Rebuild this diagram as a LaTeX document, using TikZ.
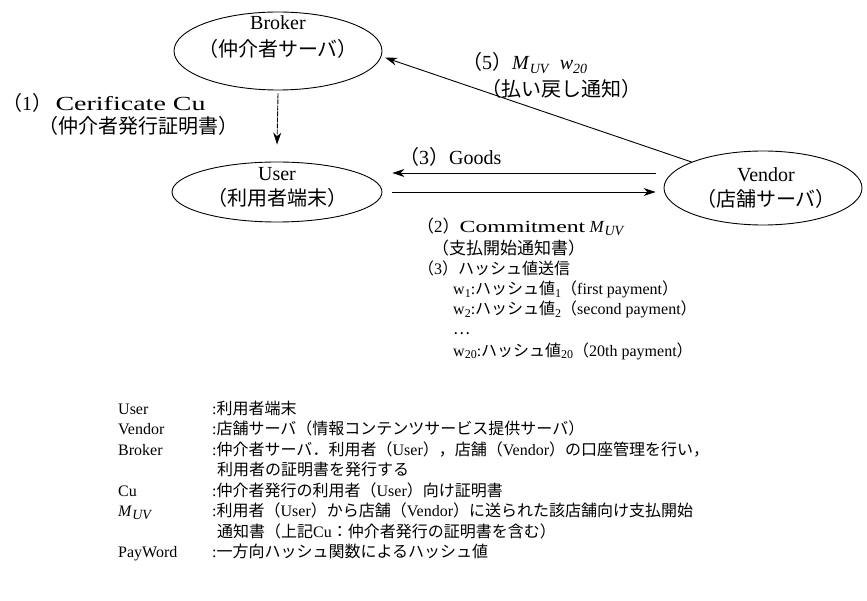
\documentclass[tikz,border=0pt]{standalone}
\usepackage{fontspec}
\setmainfont{Liberation Serif}
\newfontfamily\jpf{Noto Sans CJK JP}
\newfontfamily\wdf{Liberation Serif}[FakeStretch=1.4]
\usetikzlibrary{shapes.geometric,arrows.meta}
\newcommand\fs{\fontsize{16}{23}\selectfont}
\newcommand\fb{\fontsize{20}{25}\selectfont}
\newcommand\fm{\fontsize{17}{21}\selectfont}
\newcommand\J[1]{{\jpf #1}}
\newcommand\sbs[1]{\raisebox{-0.4ex}{\fontsize{12}{12}\selectfont #1}}
\newcommand\sbb[1]{\raisebox{-0.35ex}{\fontsize{14}{14}\selectfont #1}}
\newcommand\MUV{\textit{M}\sbs{\textit{UV}}}
\newcommand\MUVb{\textit{M}\sbb{\textit{UV}}}
\tikzset{
  ell/.style={draw, ellipse, line width=0.9pt, inner sep=0pt},
  etxt/.style={inner sep=0pt, align=center, font=\fb},
  lbl/.style={anchor=base west, inner sep=0pt, font=\fs},
  lblb/.style={anchor=base west, inner sep=0pt, font=\fb},
  lblm/.style={anchor=base west, inner sep=0pt, font=\fm},
  arr/.style={-{Stealth[length=12pt,width=8pt]}, line width=0.9pt}
}
\begin{document}
\begin{tikzpicture}[x=1pt,y=-1pt]
\useasboundingbox[fill=white] (0,0) rectangle (867,601);
% ellipses
\node[ell, minimum width=208pt, minimum height=78pt] (bro) at (278,51) {};
\node[etxt, font=\fontsize{20}{27}\selectfont] (brot) at (278,37) {Broker\\\J{（仲介者サーバ）}};
\node[ell, minimum width=210pt, minimum height=60pt] (usr) at (277,192) {};
\node[etxt] (usrt) at (277,187) {User\\\J{（利用者端末）}};
\node[ell, minimum width=198pt, minimum height=74pt] (ven) at (763,188) {};
\node[etxt] (vent) at (766,188) {Vendor\\\J{（店舗サーバ）}};
% connectors
\draw[arr, dash pattern=on 5pt off 1pt] ([yshift=-3pt]bro.south) -- ([yshift=17pt]usr.north);
\draw[arr] ([xshift=-8pt,yshift=15pt]ven.west) -- ([xshift=10pt,yshift=19pt]usr.east);
\draw[arr] ([xshift=10pt]usr.east) -- ([xshift=-8pt,yshift=-4pt]ven.west);
\draw[arr, shorten >=4pt] (ven.160) -- (bro.-3);
% connector labels
\node[lblb] (l1a) at (2,111) {\J{（}1\J{）}\,{\wdf Cerificate Cu}};
\node[lblb] (l1b) at (38,134) {\J{（仲介者発行証明書）}};
\node[lblb] (l5a) at (462,70) {\J{（}5\J{）}\MUVb\ \ \textit{w}\sbb{\textit{20}}};
\node[lblb] (l5b) at (481,97) {\J{（払い戻し通知）}};
\node[lblb] (l3g) at (399,165) {\J{（}3\J{）}Goods};
\node[lblm] (r1) at (417,233) {\J{（}2\J{）}{\wdf Commitment} \MUVb};
\node[lblm] (r2) at (432,255) {\J{（支払開始通知書）}};
\node[lbl] (r3) at (418,275) {\J{（}3\J{）ハッシュ値送信}};
\node[lbl] (r4) at (453,295) {w\sbs{1}:\J{ハッシュ値}\sbs{1}\J{（}first payment\J{）}};
\node[lbl] (r5) at (453,315) {w\sbs{2}:\J{ハッシュ値}\sbs{2}\J{（}second payment\J{）}};
\node[lbl] (r6) at (453,335) {\J{…}};
\node[lbl] (r7) at (453,356) {w\sbs{20}:\J{ハッシュ値}\sbs{20}\J{（}20th payment\J{）}};
% legend
\node[lbl] (k1) at (118,414) {User};
\node[lbl] (v1) at (212,414) {:\J{利用者端末}};
\node[lbl] (k2) at (118,434.5) {Vendor};
\node[lbl] (v2) at (212,434.5) {:\J{店舗サーバ（情報コンテンツサービス提供サーバ）}};
\node[lbl] (k3) at (118,455) {Broker};
\node[lbl] (v3) at (212,455) {:\J{仲介者サーバ．利用者（}User\J{），店舗（}Vendor\J{）の口座管理を行い，}};
\node[lbl] (v4) at (217,475.5) {\J{利用者の証明書を発行する}};
\node[lbl] (k5) at (118,496) {Cu};
\node[lbl] (v5) at (212,496) {:\J{仲介者発行の利用者（}User\J{）向け証明書}};
\node[lbl] (k6) at (118,516.5) {\MUVb};
\node[lbl] (v6) at (212,516.5) {:\J{利用者（}User\J{）から店舗（}Vendor\J{）に送られた該店舗向け支払開始}};
\node[lbl] (v7) at (217,537) {\J{通知書（上記}Cu\J{：仲介者発行の証明書を含む）}};
\node[lbl] (k8) at (118,557.5) {PayWord};
\node[lbl] (v8) at (212,557.5) {:\J{一方向ハッシュ関数によるハッシュ値}};
\end{tikzpicture}
\end{document}
